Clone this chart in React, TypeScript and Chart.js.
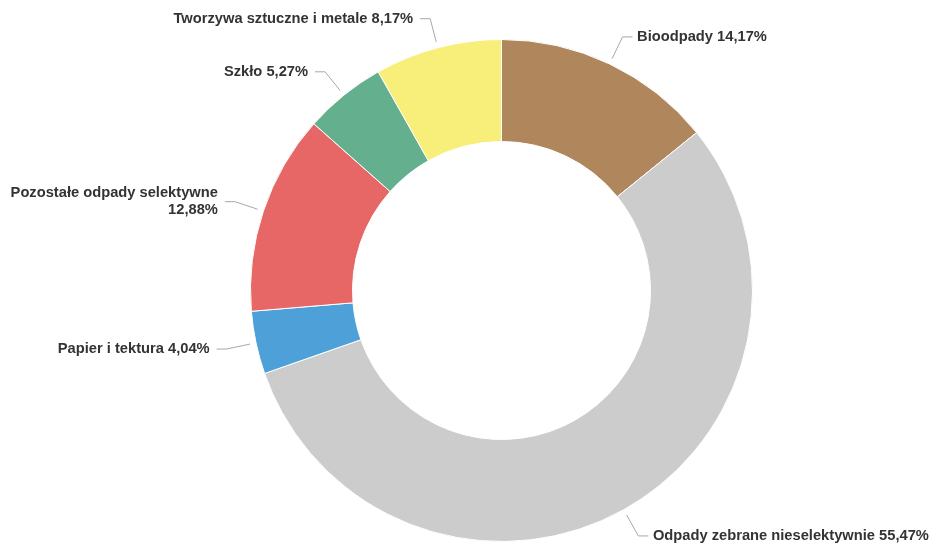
import React, { useEffect, useRef } from "react";
import { Chart, registerables } from "chart.js";

Chart.register(...registerables);

const categories: string[] = [
  "Bioodpady",
  "Odpady zebrane nieselektywnie",
  "Papier i tektura",
  "Pozostałe odpady selektywne",
  "Szkło",
  "Tworzywa sztuczne i metale",
];
const values: number[] = [14.17, 55.47, 4.04, 12.88, 5.27, 8.17];
const valueLabels: string[] = ["14,17%", "55,47%", "4,04%", "12,88%", "5,27%", "8,17%"];
const colors: string[] = ["#B0875C", "#CCCCCC", "#4EA0D8", "#E76666", "#64AF8D", "#F8EE7A"];

const FONT = "bold 14.7px 'Liberation Sans', Arial, Helvetica, sans-serif";
const TEXT_COLOR = "#333333";
const LINE_COLOR = "#a8a8a8";

const labelPlugin = {
  id: "outsideLabels",
  afterDatasetsDraw(chart: any) {
    const ctx: CanvasRenderingContext2D = chart.ctx;
    const meta = chart.getDatasetMeta(0);
    ctx.save();
    ctx.font = FONT;
    ctx.fillStyle = TEXT_COLOR;
    ctx.textBaseline = "middle";
    meta.data.forEach((arc: any, i: number) => {
      const { x: cx, y: cy, startAngle, endAngle, outerRadius } = arc.getProps(
        ["x", "y", "startAngle", "endAngle", "outerRadius"],
        true
      );
      const mid = (startAngle + endAngle) / 2;
      const R = outerRadius + 30;
      const sx = cx + Math.cos(mid) * (outerRadius + 6);
      const sy = cy + Math.sin(mid) * (outerRadius + 6);
      const dy = Math.sin(mid) * R;
      const right = Math.cos(mid) >= 0;
      const dx = Math.sqrt(Math.max(R * R - dy * dy, 0));
      const ex = right ? cx + dx : cx - dx;
      const ey = cy + dy;
      const hx = right ? ex + 10 : ex - 10;

      ctx.strokeStyle = LINE_COLOR;
      ctx.lineWidth = 1;
      ctx.beginPath();
      ctx.moveTo(sx, sy);
      ctx.lineTo(ex, ey);
      ctx.lineTo(hx, ey);
      ctx.stroke();

      const full = categories[i] + " " + valueLabels[i];
      const tx = right ? ex + 14.6 : ex - 17;
      const maxW = right ? chart.width - tx - 2 : tx - 8;
      const words = full.split(" ");
      const lines: string[] = [];
      let cur = "";
      words.forEach((w) => {
        const test = cur ? cur + " " + w : w;
        if (cur && ctx.measureText(test).width > maxW) {
          lines.push(cur);
          cur = w;
        } else {
          cur = test;
        }
      });
      if (cur) lines.push(cur);
      const lh = 16.7;
      ctx.textAlign = right ? "left" : "right";
      lines.forEach((ln, k) => {
        const yy = ey + (k - (lines.length - 1) / 2) * lh;
        ctx.fillText(ln, tx, yy);
      });
    });
    ctx.restore();
  },
};

export default function App() {
  const ref = useRef<HTMLCanvasElement | null>(null);
  useEffect(() => {
    if (!ref.current) return;
    const chart = new Chart(ref.current, {
      type: "doughnut",
      data: {
        labels: categories,
        datasets: [
          {
            data: values,
            backgroundColor: colors,
            borderColor: "#ffffff",
            borderWidth: 1,
            hoverOffset: 0,
          },
        ],
      },
      options: {
        animation: false,
        responsive: true,
        maintainAspectRatio: false,
        radius: 251,
        cutout: 149,
        layout: { padding: { left: 250, right: 178, top: 39, bottom: 5 } },
        plugins: {
          legend: { display: false },
          tooltip: { enabled: false },
        },
      } as any,
      plugins: [labelPlugin],
    });
    return () => chart.destroy();
  }, []);
  return (
    <div style={{ position: "fixed", left: 0, top: 0, width: 931, height: 547, background: "#fff" }}>
      <canvas ref={ref} />
    </div>
  );
}
